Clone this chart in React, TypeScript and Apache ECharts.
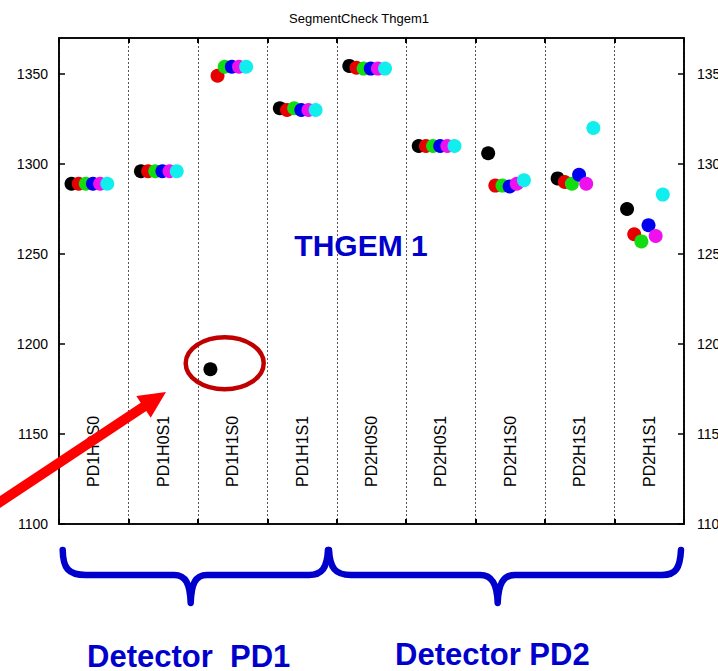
import React, { useEffect, useRef } from "react";
import * as echarts from "echarts";

const CATEGORIES = ["PD1H0S0", "PD1H0S1", "PD1H1S0", "PD1H1S1", "PD2H0S0", "PD2H0S1", "PD2H1S0", "PD2H1S1", "PD2H1S1"];
const Y_TICKS_MIN = 1100;
const Y_TICKS_MAX = 1370;
const Y_TICK_STEP = 50;

const SERIES_NAMES = ["black", "red", "green", "blue", "magenta", "cyan"];
const BLACK = [1289, 1296, 1186, 1331, 1354.5, 1310, 1306, 1292, 1275];
const RED = [1289, 1296, 1349, 1330, 1353.5, 1310, 1288, 1290, 1261];
const GREEN = [1289, 1296, 1354, 1331, 1353, 1310, 1288, 1289, 1257];
const BLUE = [1289, 1296, 1354, 1330, 1353, 1310, 1287.5, 1294, 1266];
const MAGENTA = [1289, 1296, 1354, 1330, 1353, 1310, 1289, 1289, 1260];
const CYAN = [1289, 1296, 1354, 1330, 1353, 1310, 1291, 1320, 1283];

const SERIES_VALUES = [BLACK, RED, GREEN, BLUE, MAGENTA, CYAN];
const SERIES_COLORS = ["#000000", "#e60000", "#11dd11", "#0000ee", "#ee11ee", "#11eeee"];
const SERIES_OFFSET = [0.18, 0.283, 0.386, 0.489, 0.592, 0.695];

const FONT = "Liberation Sans, Arial, Helvetica, sans-serif";
const BLUE_TXT = "#0000cc";

const BRACE1 =
  "M 62.7 550 C 63 568 68 575 86 575 L 174 575 C 186 575 190 584 190.7 603 C 191.4 584 195 575 207 575 L 309 575 C 322 575 327 568 328 550";
const BRACE2 =
  "M 329 550 C 330 568 335 575 351 575 L 480 575 C 492 575 497 584 497.7 603 C 498.4 584 503 575 515 575 L 662 575 C 676 575 680 568 681 550";

function arrowPoints(tail: number[], tip: number[], shaftHalf: number, headLen: number, headHalf: number) {
  const dx = tip[0] - tail[0];
  const dy = tip[1] - tail[1];
  const len = Math.sqrt(dx * dx + dy * dy);
  const ux = dx / len, uy = dy / len;
  const nx = -uy, ny = ux;
  const bx = tip[0] - headLen * ux, by = tip[1] - headLen * uy;
  return [
    [tail[0] + shaftHalf * nx, tail[1] + shaftHalf * ny],
    [bx + shaftHalf * nx, by + shaftHalf * ny],
    [bx + headHalf * nx, by + headHalf * ny],
    [tip[0], tip[1]],
    [bx - headHalf * nx, by - headHalf * ny],
    [bx - shaftHalf * nx, by - shaftHalf * ny],
    [tail[0] - shaftHalf * nx, tail[1] - shaftHalf * ny],
  ];
}

let registered = false;
function registerShapes() {
  if (registered) return;
  registered = true;
  echarts.graphic.registerShape("brace1", echarts.graphic.extendPath(BRACE1, {}) as any);
  echarts.graphic.registerShape("brace2", echarts.graphic.extendPath(BRACE2, {}) as any);
}

export default function App() {
  const ref = useRef<HTMLDivElement>(null);

  useEffect(() => {
    document.body.style.margin = "0";
    registerShapes();
    const chart = echarts.init(ref.current!, undefined, { renderer: "svg" });

    const axisLine = { show: true, onZero: false, lineStyle: { color: "#000", width: 1.6 } };
    const xTick = { show: true, inside: true, length: 5, lineStyle: { color: "#000", width: 2 } };
    const yTick = { show: true, inside: true, length: 6, lineStyle: { color: "#000", width: 1.5 } };

    const braceStyle = { fill: "none", stroke: BLUE_TXT, lineWidth: 6.5, lineCap: "round", lineJoin: "round" };
    const plain = (v: number) => String(v);

    const option: any = {
      animation: false,
      backgroundColor: "#fff",
      title: {
        text: "SegmentCheck Thgem1",
        left: "center",
        top: 7,
        textStyle: { fontSize: 13, fontWeight: "normal", color: "#000", fontFamily: FONT },
      },
      grid: {
        left: 59, right: 34, top: 38, bottom: 147,
        outerBoundsMode: "none", containLabel: false,
        show: true, borderColor: "#000", borderWidth: 1.6, backgroundColor: "transparent",
      },
      xAxis: [
        {
          type: "value", min: 0, max: 9, interval: 1, position: "bottom",
          axisLine, axisTick: xTick, axisLabel: { show: false },
          splitLine: { show: true, lineStyle: { color: "#555", type: [2, 2], width: 1 } },
        },
        {
          type: "value", min: 0, max: 9, interval: 1, position: "top",
          axisLine, axisTick: xTick, axisLabel: { show: false }, splitLine: { show: false },
        },
        {
          type: "category", data: CATEGORIES, position: "bottom", boundaryGap: true,
          axisLine: { show: false }, axisTick: { show: false }, splitLine: { show: false },
          axisLabel: { inside: true, rotate: 90, margin: 37, interval: 0, fontSize: 16, color: "#000", fontFamily: FONT },
        },
      ],
      yAxis: [
        {
          type: "value", min: Y_TICKS_MIN, max: Y_TICKS_MAX, interval: Y_TICK_STEP, position: "left",
          axisLine, axisTick: yTick, splitLine: { show: false },
          axisLabel: { fontSize: 14, color: "#000", margin: 11, showMaxLabel: false, fontFamily: FONT, formatter: plain },
        },
        {
          type: "value", min: Y_TICKS_MIN, max: Y_TICKS_MAX, interval: Y_TICK_STEP, position: "right",
          axisLine, axisTick: yTick, splitLine: { show: false },
          axisLabel: { fontSize: 14, color: "#000", margin: 13, showMaxLabel: false, fontFamily: FONT, formatter: plain },
        },
      ],
      series: SERIES_VALUES.map((vals, k) => ({
        name: SERIES_NAMES[k],
        type: "scatter",
        xAxisIndex: 0,
        yAxisIndex: 0,
        symbol: "circle",
        symbolSize: 14,
        itemStyle: { color: SERIES_COLORS[k], opacity: 1 },
        emphasis: { disabled: true },
        data: vals.map((v, i) => [i + SERIES_OFFSET[k], v]),
      })),
      graphic: [
        {
          type: "text", x: 361, y: 245, z: 100,
          style: { text: "THGEM 1", fill: BLUE_TXT, font: `bold 30px ${FONT}`, textAlign: "center", textVerticalAlign: "middle" },
        },
        {
          type: "ellipse", z: 100,
          shape: { cx: 224.7, cy: 363.3, rx: 39, ry: 26 },
          style: { fill: "none", stroke: "#c00000", lineWidth: 4.5 },
        },
        {
          type: "polygon", z: 101,
          shape: { points: arrowPoints([-18, 514], [166, 392], 5, 27, 13) },
          style: { fill: "#ff0000" },
        },
        { type: "brace1", x: 0, y: 0, z: 100, style: braceStyle },
        { type: "brace2", x: 0, y: 0, z: 100, style: braceStyle },
        {
          type: "text", x: 87, y: 656, z: 100,
          style: { text: "Detector  PD1", fill: BLUE_TXT, font: `bold 31px ${FONT}`, textAlign: "left", textVerticalAlign: "middle" },
        },
        {
          type: "text", x: 395, y: 654, z: 100,
          style: { text: "Detector PD2", fill: BLUE_TXT, font: `bold 31px ${FONT}`, textAlign: "left", textVerticalAlign: "middle" },
        },
      ],
    };

    chart.setOption(option);
    return () => chart.dispose();
  }, []);

  return <div ref={ref} style={{ width: 718, height: 671 }} />;
}
